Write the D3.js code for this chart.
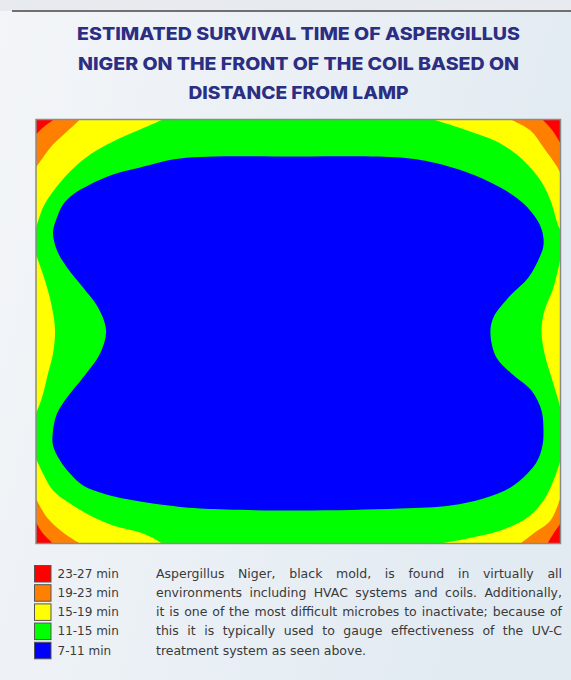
<!DOCTYPE html>
<html>
<head>
<meta charset="utf-8">
<script src="https://cdn.jsdelivr.net/npm/d3@7"></script>
<style>
html,body{margin:0;padding:0;background:#eef2f6;}
svg{display:block;}
</style>
</head>
<body>
<svg id="chart" width="571" height="680"></svg>
<script>
// ---------- text ----------
const titleLines = [
  "ESTIMATED SURVIVAL TIME OF ASPERGILLUS",
  "NIGER ON THE FRONT OF THE COIL BASED ON",
  "DISTANCE FROM LAMP"
];
const legendLabels = ["23-27 min", "19-23 min", "15-19 min", "11-15 min", "7-11 min"];
const legendColors = ["#ff0000", "#ff8000", "#ffff00", "#00ff00", "#0000ff"];
const paragraphLines = [
  "Aspergillus Niger, black mold, is found in virtually all",
  "environments including HVAC systems and coils. Additionally,",
  "it is one of the most difficult microbes to inactivate; because of",
  "this it is typically used to gauge effectiveness of the UV-C",
  "treatment system as seen above."
];

// ---------- coil face (distance units across the coil) ----------
const coilWidth = 52.4;
const coilHeight = 42.4;

// 7-11 min region (blue) boundary
const blueBoundary = [
  [26.2,3.7],[36.4,3.8],[39.7,4.3],[43.1,5.3],[46.4,6.8],[48.7,8.4],[50.1,10.1],[50.6,11.3],
  [50.7,12.6],[50.3,13.8],[49.2,15.8],[47.2,17.8],[45.7,19.8],[45.4,21.4],[46.0,23.8],[47.5,25.4],
  [49.5,27.1],[50.5,29.1],[50.7,31.1],[50.6,32.6],[50.1,34.1],[49.1,35.4],[47.4,36.8],[44.7,37.9],
  [41.4,38.6],[36.4,38.9],[26.2,39.1],[16.4,38.9],[12.4,38.5],[10.4,38.2],[8.7,37.9],[6.7,37.4],
  [4.7,36.6],[3.4,35.4],[2.4,34.1],[1.7,32.6],[1.7,31.1],[2.1,29.4],[3.1,27.8],[4.7,25.8],
  [6.4,23.4],[7.0,21.1],[6.2,18.8],[4.7,16.8],[3.1,14.8],[2.1,13.1],[1.7,11.3],[2.1,9.8],
  [2.7,8.5],[3.7,7.5],[5.4,6.5],[7.7,5.5],[10.4,4.8],[14.4,3.9]
];

// 15-19 min (yellow) corner boundaries, edge to edge
const yellowTopLeft = [[12.7,0],[10.4,1.0],[7.7,2.2],[5.4,3.5],[3.4,5.2],[1.7,7.2],[0.7,8.8],[0,10.9]];
const yellowTopRight = [[39.7,0],[43.1,1.1],[46.4,2.4],[48.7,4.1],[50.4,6.1],[51.4,8.1],[52.1,10.4],[52.4,11.1]];
const yellowBottomRight = [[52.4,34.1],[51.7,36.1],[50.7,38.1],[49.1,39.8],[46.4,41.1],[43.1,41.9],[40.4,42.4]];
const yellowBottomLeft = [[0,33.9],[0.7,35.4],[1.7,37.1],[3.4,38.4],[5.4,39.6],[7.7,40.6],[10.4,41.3],[11.6,41.8],[12.6,42.4]];
// 15-19 min (yellow) side slivers
const yellowLeftSide = [[0,13.5],[0.9,16.1],[1.6,18.8],[1.9,21.1],[1.7,23.4],[1.2,25.4],[0.6,27.8],[0,29.4]];
const yellowRightSide = [[52.4,13.9],[51.7,16.8],[50.8,19.1],[50.5,21.1],[50.8,23.4],[51.5,25.8],[52.1,27.8],[52.4,28.9]];

// 19-23 min (orange) corner boundaries
const orangeTopLeft = [[4.4,0],[3.1,1.2],[1.7,2.5],[0.7,3.8],[0,4.8]];
const orangeTopRight = [[47.4,0],[49.4,1.1],[50.7,2.8],[52.1,4.8],[52.4,5.4]];
const orangeBottomRight = [[52.4,37.8],[51.4,40.1],[49.7,41.4],[48.4,42.4]];
const orangeBottomLeft = [[0,37.9],[1.1,39.8],[2.7,41.3],[4.4,42.4]];

// 23-27 min (red) corner boundaries
const redTopLeft = [[1.8,0],[0.7,0.8],[0,1.5]];
const redTopRight = [[50.6,0],[51.6,1.1],[52.4,2.4]];
const redBottomRight = [[52.4,40.4],[51.7,41.4],[51.1,42.4]];
const redBottomLeft = [[0,40.3],[0.7,41.4],[1.7,42.4]];

// ---------- drawing ----------
const svg = d3.select("#chart");
const defs = svg.append("defs");

const bg = defs.append("linearGradient").attr("id","bg").attr("x1","0").attr("x2","1").attr("y1","0").attr("y2","0.3");
bg.append("stop").attr("offset","0").attr("stop-color","#f3f5f8");
bg.append("stop").attr("offset","1").attr("stop-color","#e2ebf2");

svg.append("rect").attr("width",571).attr("height",680).attr("fill","url(#bg)");
svg.append("rect").attr("width",571).attr("height",11).attr("fill","#e7eaee");
svg.append("line").attr("x1",12).attr("x2",571).attr("y1",11).attr("y2",11)
  .attr("stroke","#707070").attr("stroke-width",2);

// title
const title = svg.append("g");
const titleWidths = [443, 441, 220];
const titleBase = [40, 69.5, 99];
titleLines.forEach((t,i) => {
  title.append("text")
    .attr("x", 298.5).attr("y", titleBase[i])
    .attr("text-anchor","middle")
    .attr("font-family","Inter, 'Liberation Sans', sans-serif")
    .attr("font-weight", 800)
    .attr("font-size", 17.3)
    .attr("fill", "#2b2e83")
    .attr("textLength", titleWidths[i])
    .attr("lengthAdjust","spacingAndGlyphs")
    .text(t);
});

// scales
const x = d3.scaleLinear().domain([0, coilWidth]).range([36, 560.5]);
const y = d3.scaleLinear().domain([0, coilHeight]).range([119.5, 543.5]);

defs.append("clipPath").attr("id","frame")
  .append("rect").attr("x", x(0)).attr("y", y(0))
  .attr("width", x(coilWidth)-x(0)).attr("height", y(coilHeight)-y(0));

const plot = svg.append("g").attr("clip-path","url(#frame)");

const open = d3.line().x(d => x(d[0])).y(d => y(d[1])).curve(d3.curveCatmullRom.alpha(0.5));
const closed = d3.line().x(d => x(d[0])).y(d => y(d[1])).curve(d3.curveCatmullRomClosed.alpha(0.5));
const cornerPath = (pts, c) => open(pts) + "L" + x(c[0]) + "," + y(c[1]) + "Z";
const sidePath = pts => open(pts) + "Z";

// 11-15 base
plot.append("rect").attr("x", x(0)).attr("y", y(0))
  .attr("width", x(coilWidth)-x(0)).attr("height", y(coilHeight)-y(0))
  .attr("fill", legendColors[3]);
// 7-11
plot.append("path").attr("d", closed(blueBoundary)).attr("fill", legendColors[4]);
// 15-19
const TL=[0,0], TR=[coilWidth,0], BR=[coilWidth,coilHeight], BL=[0,coilHeight];
[[yellowTopLeft,TL],[yellowTopRight,TR],[yellowBottomRight,BR],[yellowBottomLeft,BL]].forEach(([p,c]) =>
  plot.append("path").attr("d", cornerPath(p,c)).attr("fill", legendColors[2]));
[yellowLeftSide, yellowRightSide].forEach(p =>
  plot.append("path").attr("d", sidePath(p)).attr("fill", legendColors[2]));
// 19-23
[[orangeTopLeft,TL],[orangeTopRight,TR],[orangeBottomRight,BR],[orangeBottomLeft,BL]].forEach(([p,c]) =>
  plot.append("path").attr("d", cornerPath(p,c)).attr("fill", legendColors[1]));
// 23-27
[[redTopLeft,TL],[redTopRight,TR],[redBottomRight,BR],[redBottomLeft,BL]].forEach(([p,c]) =>
  plot.append("path").attr("d", cornerPath(p,c)).attr("fill", legendColors[0]));

// frame
svg.append("rect").attr("x", x(0)).attr("y", y(0))
  .attr("width", x(coilWidth)-x(0)).attr("height", y(coilHeight)-y(0))
  .attr("fill","none").attr("stroke","#8a8a8a").attr("stroke-width",1.5);

// legend
const rowY = d3.scaleLinear().domain([0,1]).range([565, 584.2]);
const legend = svg.append("g");
legendLabels.forEach((lab,i) => {
  legend.append("rect").attr("x",34.5).attr("y",rowY(i)+0.5).attr("width",16.5).attr("height",16.5)
    .attr("fill", legendColors[i]).attr("stroke","#555").attr("stroke-width",1);
  legend.append("text").attr("x",57.5).attr("y",rowY(i)+12.7)
    .attr("font-family","'DejaVu Sans', sans-serif").attr("font-size",12)
    .attr("fill","#3a3a3a").text(lab);
});

// paragraph (justified)
const pLeft = 156, pRight = 562;
const para = svg.append("g").attr("font-family","'DejaVu Sans', sans-serif").attr("fill","#3a3a3a");
// calibrate font size so longest line fits naturally
const probe = para.append("text").attr("font-size",12).text(paragraphLines[2]);
const natural = probe.node().getComputedTextLength();
probe.remove();
const pSize = Math.min(12.5, 12 * (pRight - pLeft) / natural);
paragraphLines.forEach((line,i) => {
  const by = rowY(i)+12.7;
  const words = line.split(" ");
  if (i === paragraphLines.length-1) {
    para.append("text").attr("x",pLeft).attr("y",by).attr("font-size",pSize).text(line);
    return;
  }
  const t = para.append("text").attr("y",by).attr("font-size",pSize);
  const spans = words.map(w => t.append("tspan").text(w));
  const widths = spans.map(s => s.node().getComputedTextLength());
  const total = d3.sum(widths);
  const gap = (pRight - pLeft - total) / (words.length - 1);
  let cx = pLeft;
  spans.forEach((s,k) => { s.attr("x", cx); cx += widths[k] + gap; });
});
</script>
</body>
</html>
